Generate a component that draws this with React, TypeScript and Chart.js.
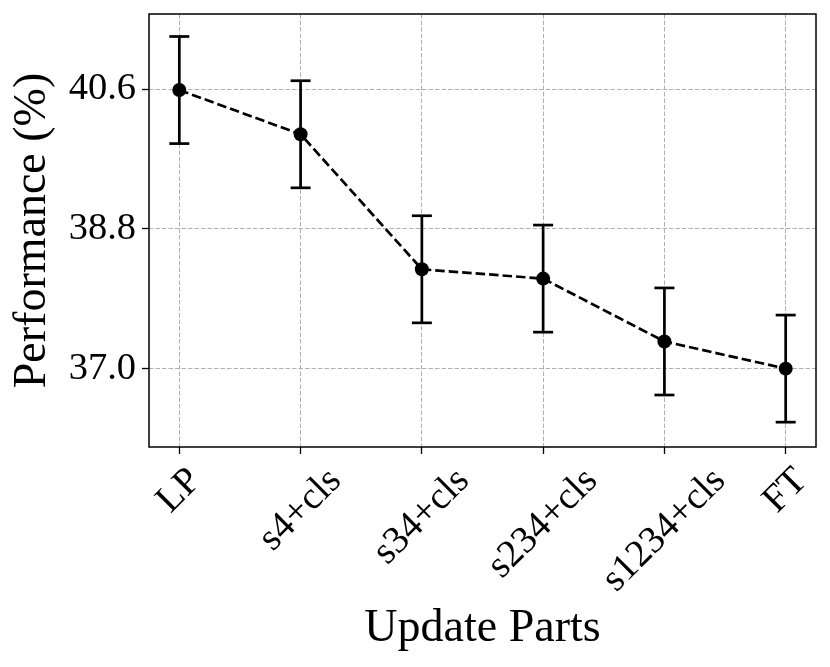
import React, { useEffect, useRef } from "react";
import { Chart, registerables } from "chart.js";

Chart.register(...registerables);

const categories = ["LP", "s4+cls", "s34+cls", "s234+cls", "s1234+cls", "FT"];
const performance = [40.59, 40.02, 38.28, 38.16, 37.35, 37.0];
const errors = [0.69, 0.69, 0.69, 0.69, 0.69, 0.69];
const yTicks = [37.0, 38.8, 40.6];

const FONT = "'Liberation Serif', 'Times New Roman', Times, serif";
const TICK_SIZE = 38.5;
const TITLE_SIZE = 46;

export default function App() {
  const ref = useRef<HTMLCanvasElement>(null);

  useEffect(() => {
    document.body.style.margin = "0";
    const canvas = ref.current;
    if (!canvas) return;

    const mainData = performance.map((v, i) => ({ x: i, y: v }));
    const errData: any[] = [];
    performance.forEach((v, i) => {
      errData.push({ x: i, y: v - errors[i] });
      errData.push({ x: i, y: v + errors[i] });
      errData.push({ x: i, y: null });
    });

    const framePlugin = {
      id: "frame",
      afterDraw(chart: any) {
        const { ctx, chartArea: a } = chart;
        ctx.save();
        ctx.strokeStyle = "#000";
        ctx.lineWidth = 1.5;
        ctx.setLineDash([]);
        ctx.strokeRect(a.left, a.top, a.right - a.left, a.bottom - a.top);
        ctx.restore();
      },
    };

    const labelPlugin = {
      id: "rotLabels",
      afterDraw(chart: any) {
        const { ctx, chartArea: a } = chart;
        const xs = chart.scales.x;
        ctx.save();
        ctx.font = `${TICK_SIZE}px ${FONT}`;
        ctx.fillStyle = "#000";
        ctx.textAlign = "center";
        ctx.textBaseline = "middle";
        categories.forEach((c, i) => {
          const px = xs.getPixelForValue(i);
          const w = ctx.measureText(c).width;
          const h = TICK_SIZE * 1.1;
          const d = (w + h) / Math.SQRT2;
          const cy = a.bottom + 13 + d / 2;
          ctx.save();
          ctx.translate(px, cy);
          ctx.rotate(-Math.PI / 4);
          ctx.fillText(c, 0, 0);
          ctx.restore();
        });
        ctx.restore();
      },
    };

    Chart.defaults.font.family = FONT;

    const gridOpts = {
      color: "#b0b0b0",
      lineWidth: 1,
      drawTicks: true,
      tickLength: 7,
      tickColor: "#000",
      tickWidth: 1.3,
      tickBorderDash: [],
    };

    const zeroPad = (s: any) => {
      s.paddingTop = 0;
      s.paddingBottom = 0;
      s.paddingLeft = 0;
      s.paddingRight = 0;
    };

    const chart = new Chart(canvas, {
      type: "scatter",
      data: {
        datasets: [
          {
            data: mainData,
            showLine: true,
            borderColor: "#000",
            backgroundColor: "#000",
            borderWidth: 2.7,
            borderDash: [9.5, 4],
            pointRadius: 7,
            pointHoverRadius: 7,
            pointBorderWidth: 0,
            pointBackgroundColor: "#000",
          },
          {
            data: errData,
            showLine: true,
            spanGaps: false,
            borderColor: "#000",
            borderWidth: 2.7,
            pointStyle: "line",
            pointRadius: 10,
            pointHoverRadius: 10,
            pointBorderWidth: 2.7,
            pointBorderColor: "#000",
            pointBackgroundColor: "#000",
          },
        ],
      },
      options: {
        animation: false,
        responsive: false,
        events: [],
        layout: { padding: { top: 14, right: 14, left: 0, bottom: 0 } },
        plugins: {
          legend: { display: false },
          tooltip: { enabled: false },
        },
        scales: {
          x: {
            type: "linear",
            min: -0.25,
            max: 5.25,
            afterBuildTicks: (s: any) => {
              s.ticks = categories.map((_, i) => ({ value: i }));
            },
            afterFit: (s: any) => {
              s.height = 220;
              zeroPad(s);
            },
            ticks: { display: false },
            grid: gridOpts,
            border: { display: false, dash: [4.5, 2] },
            title: {
              display: true,
              text: "Update Parts",
              color: "#000",
              font: { size: TITLE_SIZE, family: FONT },
              padding: { top: 0, bottom: 10 },
            },
          },
          y: {
            type: "linear",
            min: 35.99,
            max: 41.57,
            afterBuildTicks: (s: any) => {
              s.ticks = yTicks.map((v) => ({ value: v }));
            },
            afterFit: (s: any) => {
              s.width = 149;
              zeroPad(s);
            },
            ticks: {
              color: "#000",
              font: { size: TICK_SIZE, family: FONT },
              padding: 6,
              callback: (v: any) => Number(v).toFixed(1),
            },
            grid: gridOpts,
            border: { display: false, dash: [4.5, 2] },
            title: {
              display: true,
              text: "Performance (%)",
              color: "#000",
              font: { size: TITLE_SIZE, family: FONT },
              padding: { top: 5, bottom: 0 },
            },
          },
        },
      } as any,
      plugins: [framePlugin, labelPlugin],
    });

    return () => {
      chart.destroy();
    };
  }, []);

  return (
    <div style={{ width: 830, height: 667 }}>
      <canvas ref={ref} width={830} height={667} style={{ display: "block" }} />
    </div>
  );
}
